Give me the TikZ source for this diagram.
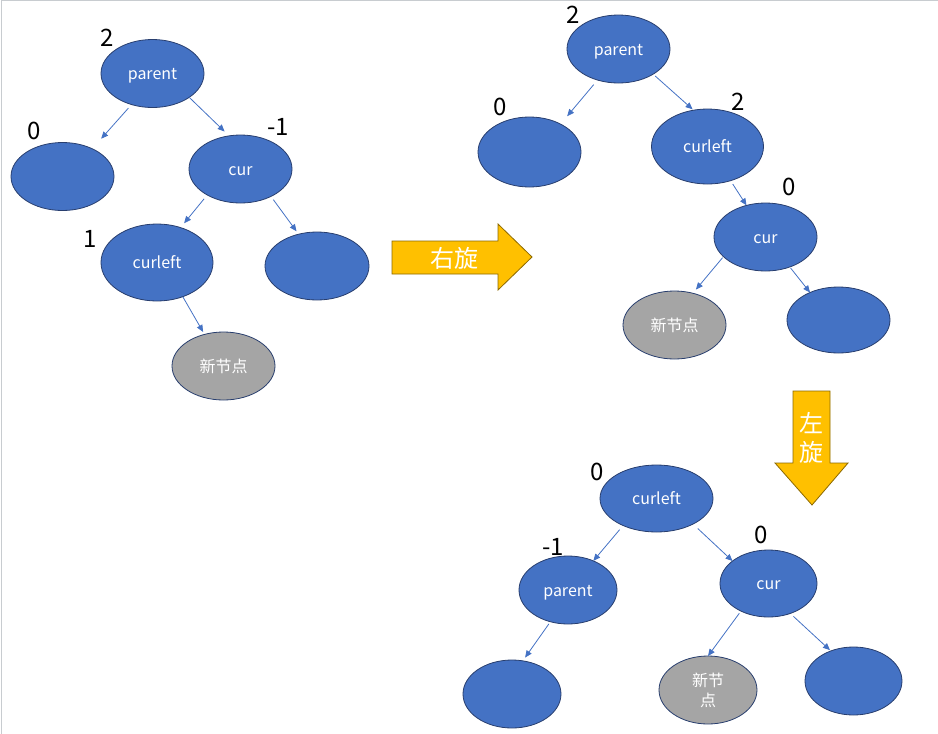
\documentclass[tikz,border=0pt]{standalone}
\usepackage{fontspec}
\setmainfont{Noto Sans CJK SC}
\usetikzlibrary{arrows.meta,shapes.geometric}
\definecolor{treeblue}{RGB}{68,114,196}
\definecolor{treeedge}{RGB}{40,62,110}
\definecolor{newgray}{RGB}{165,165,165}
\definecolor{rotyellow}{RGB}{255,192,0}
\definecolor{rotedge}{RGB}{140,105,0}
\definecolor{framegray}{RGB}{200,204,208}

\begin{document}
\begin{tikzpicture}[x=1pt, y=-1pt,
    tnode/.style={ellipse, draw=treeedge, line width=0.8pt, fill=treeblue, minimum width=103pt, minimum height=68pt, inner sep=0pt, outer sep=0pt, text=white, align=center, text height=16pt, text depth=4pt, font=\fontsize{16}{20}\selectfont},
    wide/.style={minimum width=112pt, minimum height=77pt},
    slim/.style={minimum width=98pt},
    newnode/.style={tnode, fill=newgray},
    bal/.style={font=\fontsize{24}{28}\selectfont, inner sep=0pt},
    edge/.style={-{Triangle[length=7pt,width=6pt]}, draw=treeblue, line width=0.8pt},
    bigarrow/.style={fill=rotyellow, draw=rotedge, line width=0.8pt},
    rottext/.style={text=white, align=center, font=\fontsize{24}{29}\selectfont}
]
\useasboundingbox (0,0) rectangle (938,734);
\draw[framegray, line width=1pt] (1.5,734) -- (1.5,0.5) -- (938,0.5);

% Before rotation
\node[tnode] (parentA) at (152.5,73.5) {parent};
\node[tnode] (leftA) at (62.5,176.5) {};
\node[tnode] (curA) at (240.5,169) {cur};
\node[tnode, wide] (curleftA) at (157,262.5) {curleft};
\node[tnode, minimum width=104pt] (rightA) at (317,266) {};
\node[newnode] (newA) at (223.5,366) {新节点};

\node[bal] (balParentA) at (107.5,38) {2};
\node[bal] (balLeftA) at (34.5,131) {0};
\node[bal] (balCurA) at (278,127) {-1};
\node[bal] (balCurleftA) at (90,239) {1};

\draw[edge, shorten <=4.7pt, shorten >=13.4pt] (parentA.-124) -- (leftA.43);
\draw[edge, shorten >=6.2pt] (parentA.-33) -- (curA.109);
\draw[edge, shorten <=5pt, shorten >=5.6pt] (curA.-142) -- (curleftA.56);
\draw[edge, shorten <=4pt, shorten >=3.6pt] (curA.-42) -- (rightA.120);
\draw[edge, shorten >=2.8pt] (curleftA.-53) -- (newA.121);

% Right rotation
\draw[bigarrow] (392,241) -- (498,241) -- (498,224) -- (532,257) -- (498,290) -- (498,274) -- (392,274) -- cycle;
\node[rottext] (rotRight) at (454,258) {右旋};

% After right rotation
\node[tnode] (parentB) at (618.5,49) {parent};
\node[tnode, minimum height=70pt] (leftB) at (529.5,152) {};
\node[tnode, wide, minimum height=75pt] (curleftB) at (707.5,146.5) {curleft};
\node[tnode] (curB) at (765.5,237) {cur};
\node[newnode] (newB) at (674.5,325) {新节点};
\node[tnode, minimum height=66pt] (rightB) at (838.5,320) {};

\node[bal] (balParentB) at (573,15) {2};
\node[bal] (balLeftB) at (500,107) {0};
\node[bal] (balCurleftB) at (738,102) {2};
\node[bal] (balCurB) at (789,187) {0};

\draw[edge, shorten <=6pt, shorten >=10.3pt] (parentB.-124) -- (leftB.42);
\draw[edge, shorten <=2.8pt, shorten >=1.3pt] (parentB.-36) -- (curleftB.111);
\draw[edge, shorten <=4pt] (curleftB.-56) -- (curB.121);
\draw[edge, shorten <=1.4pt, shorten >=4.8pt] (curB.-155) -- (newB.60);
\draw[edge, shorten <=1.4pt] (curB.-51) -- (rightB.136);

% Left rotation
\draw[bigarrow] (793,391) -- (830,391) -- (830,463) -- (848,463) -- (812,505) -- (775,463) -- (793,463) -- cycle;
\node[rottext] (rotLeft) at (811,437.5) {左\\旋};

% After left rotation
\node[tnode, minimum width=113pt, minimum height=67pt] (curleftC) at (656.5,498.5) {curleft};
\node[tnode, slim] (parentC) at (568,590) {parent};
\node[tnode, minimum width=97pt, minimum height=67pt] (curC) at (768.5,583.5) {cur};
\node[tnode, slim] (leftC) at (512,694) {};
\node[newnode, slim, text height={}, text depth={}] (newC) at (708,690) {新节\\点};
\node[tnode, minimum width=97pt] (rightC) at (853.5,681) {};

\node[bal] (balCurleftC) at (597,472) {0};
\node[bal] (balParentC) at (553,547) {-1};
\node[bal] (balCurC) at (761,535) {0};

\draw[edge, shorten <=5.4pt] (curleftC.-141) -- (parentC.49);
\draw[edge, shorten <=6.5pt] (curleftC.-35) -- (curC.148);
\draw[edge, shorten <=2.6pt, shorten >=4pt] (parentC.-119) -- (leftC.72);
\draw[edge, shorten <=2.7pt] (curC.-135) -- (newC.90);
\draw[edge, shorten <=4.4pt, shorten >=1.2pt] (curC.-54) -- (rightC.127);

\end{tikzpicture}
\end{document}
